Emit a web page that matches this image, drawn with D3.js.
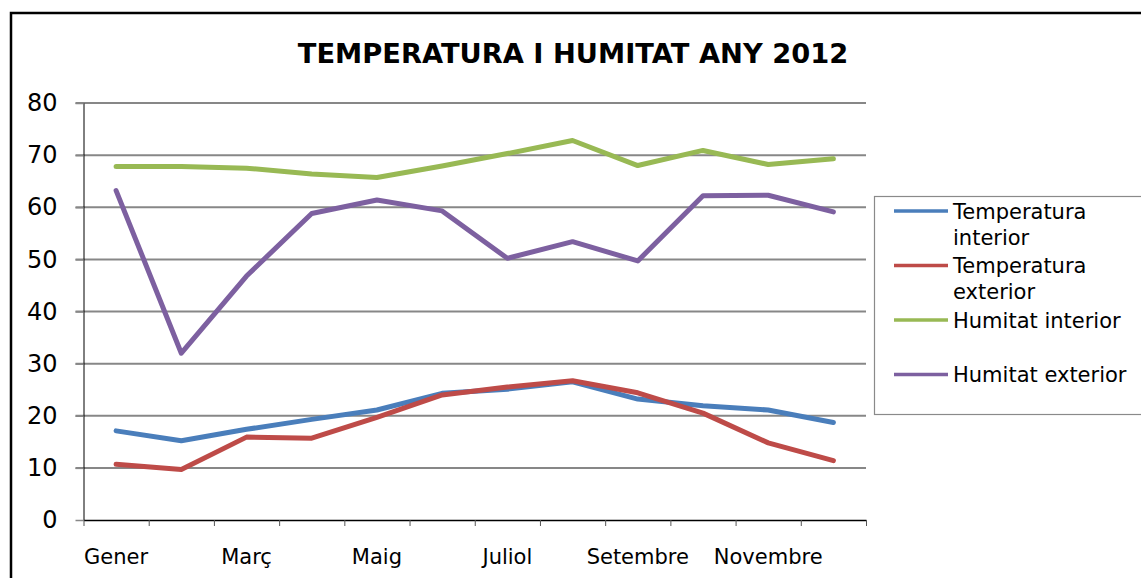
<!DOCTYPE html>
<html>
<head>
<meta charset="utf-8">
<script src="https://cdn.jsdelivr.net/npm/d3@7"></script>
<style>
  body { margin: 0; background: #fff; }
  svg { display: block; font-family: "DejaVu Sans", Verdana, sans-serif; }
</style>
</head>
<body>
<svg id="chart" width="1141" height="578"></svg>
<script>
// months of the year (catalan)
const months = ["Gener", "Febrer", "Març", "Abril", "Maig", "Juny", "Juliol", "Agost", "Setembre", "Octubre", "Novembre", "Desembre"];

// series
const tempInterior = [17.1, 15.2, 17.4, 19.3, 21.1, 24.3, 25.1, 26.5, 23.2, 21.9, 21.1, 18.7];
const tempExterior = [10.7, 9.7, 15.9, 15.7, 19.7, 24.0, 25.5, 26.7, 24.4, 20.5, 14.8, 11.4];
const humInterior = [67.8, 67.8, 67.5, 66.4, 65.7, 67.9, 70.3, 72.8, 68.0, 70.9, 68.2, 69.3];
const humExterior = [63.2, 32.0, 46.8, 58.8, 61.4, 59.3, 50.2, 53.4, 49.7, 62.2, 62.3, 59.1];

const seriesNames = ["Temperatura interior", "Temperatura exterior", "Humitat interior", "Humitat exterior"];
const yTicks = [0, 10, 20, 30, 40, 50, 60, 70, 80];

const colors = ["#4a7ebb", "#be4b48", "#98b954", "#7d60a0"];
const series = [tempInterior, tempExterior, humInterior, humExterior].map((vals, i) => ({
    name: seriesNames[i], values: vals, color: colors[i]
}));

const svg = d3.select("#chart");

// outer frame of the chart
svg.append("rect")
    .attr("x", 11).attr("y", 13)
    .attr("width", 1150).attr("height", 600)
    .attr("fill", "none")
    .attr("stroke", "#000")
    .attr("stroke-width", 2.5);

// title
svg.append("text")
    .attr("x", 573).attr("y", 63)
    .attr("text-anchor", "middle")
    .attr("font-size", "27.3px")
    .attr("font-weight", "bold")
    .text("TEMPERATURA I HUMITAT ANY 2012");

const plotLeft = 83.5, plotRight = 866, plotTop = 103, plotBottom = 520;

const x = d3.scaleBand().domain(months).range([plotLeft, plotRight]).padding(0);
const y = d3.scaleLinear().domain([0, 80]).range([plotBottom, plotTop]);

// horizontal gridlines
svg.append("g")
    .selectAll("line")
    .data(yTicks.slice(1))
    .enter()
    .append("line")
    .attr("x1", plotLeft - 8).attr("x2", plotRight)
    .attr("y1", d => y(d)).attr("y2", d => y(d))
    .attr("stroke", "#878787")
    .attr("stroke-width", 2);

// y axis
const yAxis = svg.append("g")
    .attr("transform", `translate(${plotLeft},0)`)
    .call(d3.axisLeft(y).tickValues(yTicks).tickSize(8).tickSizeOuter(0).tickPadding(18));
yAxis.select(".domain").attr("stroke", "#000");
yAxis.selectAll(".tick line").attr("stroke", "#878787").attr("stroke-width", 1.5);
yAxis.selectAll("text")
    .attr("font-size", "24px")
    .attr("font-family", "DejaVu Sans, Verdana, sans-serif")
    .attr("fill", "#000");

// x axis boundary ticks
const xEdge = d3.scaleLinear().domain([0, months.length]).range([plotLeft, plotRight]);
const xTicksG = svg.append("g")
    .attr("transform", `translate(0,${plotBottom})`)
    .call(d3.axisBottom(xEdge).ticks(months.length).tickSize(6).tickSizeOuter(0).tickFormat(""));
xTicksG.select(".domain").attr("stroke", "#000").attr("stroke-width", 1.5);
xTicksG.selectAll(".tick line").attr("stroke", "#555");

// x axis labels, every other month
const xAxis = svg.append("g")
    .attr("transform", `translate(0,${plotBottom})`)
    .call(d3.axisBottom(x).tickSize(0).tickPadding(29).tickFormat((d, i) => i % 2 === 0 ? d : ""));
xAxis.select(".domain").remove();
xAxis.selectAll("text")
    .attr("font-size", "21px")
    .attr("font-family", "DejaVu Sans, Verdana, sans-serif")
    .attr("fill", "#000");

// lines
const line = d3.line()
    .x((d, i) => x(months[i]) + x.bandwidth() / 2)
    .y(d => y(d));

svg.append("g")
    .selectAll("path")
    .data(series)
    .enter()
    .append("path")
    .attr("d", d => line(d.values))
    .attr("fill", "none")
    .attr("stroke", d => d.color)
    .attr("stroke-width", 5)
    .attr("stroke-linejoin", "round")
    .attr("stroke-linecap", "round");

// legend
const legend = svg.append("g");
legend.append("rect")
    .attr("x", 874.5).attr("y", 196.5)
    .attr("width", 280).attr("height", 218)
    .attr("fill", "#fff")
    .attr("stroke", "#8a8a8a")
    .attr("stroke-width", 1.2);

const legendRows = [
    ["Temperatura", "interior"],
    ["Temperatura", "exterior"],
    ["Humitat interior"],
    ["Humitat exterior"]
];
const rowY = [211, 265.5, 320, 374.5];

const item = legend.selectAll(".item")
    .data(series)
    .enter()
    .append("g")
    .attr("class", "item")
    .attr("transform", (d, i) => `translate(0,${rowY[i]})`);

item.append("line")
    .attr("x1", 894).attr("x2", 948)
    .attr("y1", 0).attr("y2", 0)
    .attr("stroke", d => d.color)
    .attr("stroke-width", 3.5);

item.append("text")
    .attr("x", 953)
    .attr("y", 7.5)
    .attr("font-size", "21px")
    .attr("fill", "#000")
    .selectAll("tspan")
    .data((d, i) => legendRows[i])
    .enter()
    .append("tspan")
    .attr("x", 953)
    .attr("dy", (d, i) => i === 0 ? 0 : 26)
    .text(d => d);
</script>
</body>
</html>
